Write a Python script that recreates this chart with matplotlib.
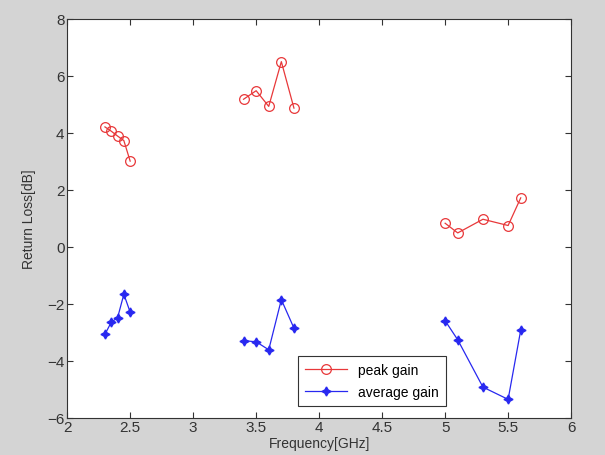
import numpy as np
import matplotlib
matplotlib.use('Agg')
import matplotlib.pyplot as plt

# datos (tres bandas de frecuencia)
freq_b1 = [2.30, 2.35, 2.40, 2.45, 2.50]
freq_b2 = [3.40, 3.50, 3.60, 3.70, 3.80]
freq_b3 = [5.00, 5.10, 5.30, 5.50, 5.60]

peak_b1 = [4.2, 4.05, 3.88, 3.72, 3.0]
peak_b2 = [5.17, 5.47, 4.92, 6.49, 4.86]
peak_b3 = [0.82, 0.48, 0.96, 0.74, 1.71]

avg_b1 = [-3.08, -2.65, -2.5, -1.67, -2.3]
avg_b2 = [-3.3, -3.34, -3.62, -1.86, -2.86]
avg_b3 = [-2.6, -3.27, -4.93, -5.36, -2.93]

fontsize = 10
plt.rcParams.update({'font.size': fontsize, 'font.family': 'Liberation Sans'})

fig = plt.figure(figsize=(6.05, 4.56), dpi=100, facecolor='#d4d4d4')
ax = fig.add_axes([0.111, 0.082, 0.833, 0.875])
ax.set_facecolor('white')

color_peak = '#e8383a'
color_avg = '#2828f0'

bands = [(freq_b1, peak_b1, avg_b1),
         (freq_b2, peak_b2, avg_b2),
         (freq_b3, peak_b3, avg_b3)]

for i, (f, p, a) in enumerate(bands):
    ax.plot(f, p, '-o', color=color_peak, lw=0.9, ms=7, mfc='none', mew=0.9,
            label='peak gain' if i == 0 else None)
    ax.plot(f, a, '-', marker=(4, 1, 0), color=color_avg, lw=0.9, ms=6.5,
            label='average gain' if i == 0 else None)

# limites
ax.set_xlim(2, 6)
ax.set_ylim(-6, 8)
ax.set_xticks(np.arange(2, 6.01, 0.5))
ax.set_xticklabels(['2', '2.5', '3', '3.5', '4', '4.5', '5', '5.5', '6'])
ax.set_yticks(np.arange(-6, 8.01, 2))
ax.tick_params(direction='in', top=True, right=True, length=4, width=0.8,
               colors='#333333', labelsize=fontsize + 1, pad=2)
for sp in ax.spines.values():
    sp.set_color('#333333')
    sp.set_linewidth(0.8)

ax.set_xlabel('Frequency[GHz]', labelpad=1, color='#333333')
ax.set_ylabel('Return Loss[dB]', labelpad=8, color='#333333')

leg = ax.legend(loc='lower left', bbox_to_anchor=(0.445, 0.012),
                fancybox=False, framealpha=1, edgecolor='#333333',
                fontsize=fontsize, handlelength=3, borderpad=0.5,
                labelspacing=0.6)
leg.get_frame().set_linewidth(0.8)

fig.savefig('out.png', dpi=100, facecolor=fig.get_facecolor())
